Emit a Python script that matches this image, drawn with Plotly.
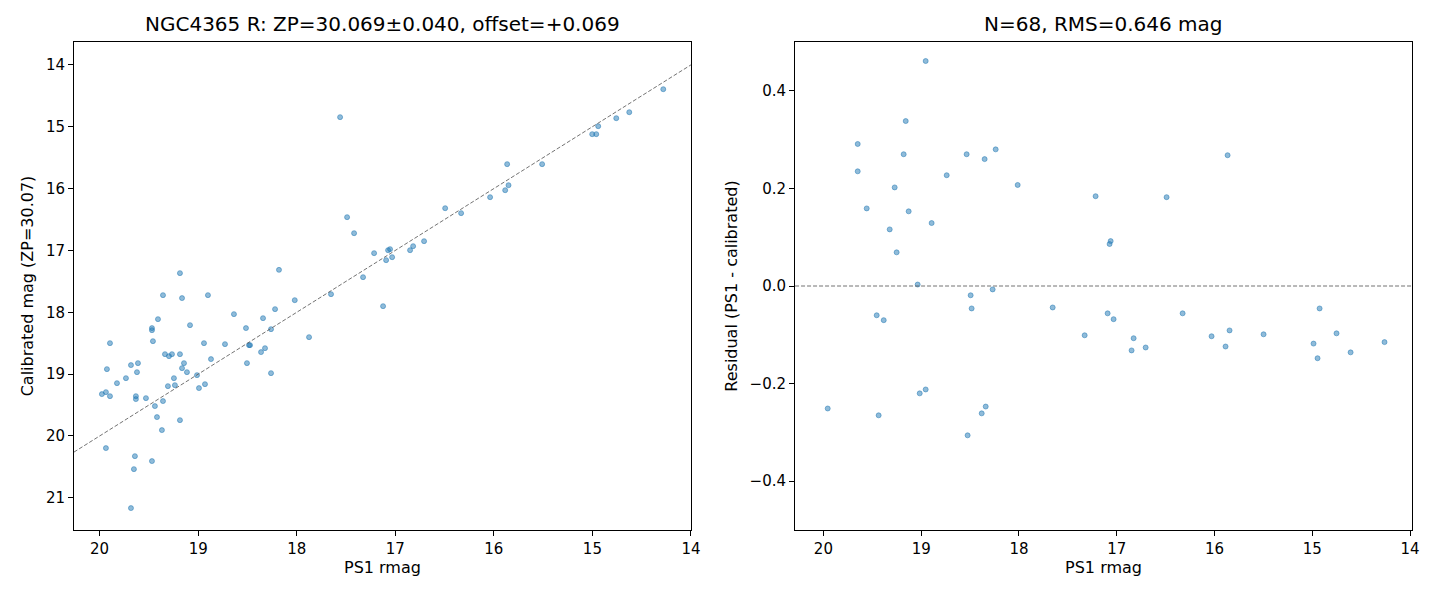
import plotly.graph_objects as go

# Left panel: PS1 rmag vs calibrated mag
ps1_all = [19.185, 19.357, 19.164, 18.901, 18.180, 18.020, 19.408, 18.637, 18.220, 18.342,
           19.469, 19.469, 19.083, 18.515, 18.261, 19.895, 19.459, 18.941, 18.728, 18.484,
           18.474, 18.322, 18.362, 19.337, 19.296, 19.266, 19.185, 18.870, 19.144, 19.164,
           19.611, 19.682, 19.621, 19.926, 18.505, 19.114, 19.733, 19.246, 19.012, 18.261,
           19.824, 19.307, 19.236, 18.992, 18.931, 19.977, 19.936, 19.895, 19.632, 19.632,
           19.530, 19.357, 19.439, 19.418, 19.185, 19.368, 19.936, 19.642, 19.469, 19.652,
           19.682, 17.560, 17.489, 17.418, 16.494, 16.332, 17.215, 17.073, 17.053, 17.093,
           17.032, 16.850, 16.819, 16.708, 17.327, 17.652, 17.124, 17.875, 14.281, 14.626,
           14.758, 14.941, 15.002, 14.961, 15.865, 15.510, 15.851, 15.885, 16.038]
cal_all = [17.367, 17.723, 17.771, 17.723, 17.314, 17.804, 18.111, 18.030, 17.949, 18.095,
           18.256, 18.289, 18.208, 18.256, 18.273, 18.499, 18.467, 18.499, 18.515, 18.531,
           18.531, 18.580, 18.644, 18.677, 18.709, 18.677, 18.677, 18.757, 18.822, 18.903,
           18.822, 18.854, 18.968, 18.919, 18.822, 18.968, 19.065, 19.065, 19.016, 18.984,
           19.146, 19.194, 19.178, 19.226, 19.162, 19.323, 19.291, 19.356, 19.356, 19.404,
           19.388, 19.436, 19.517, 19.695, 19.744, 19.905, 20.196, 20.326, 20.406, 20.536,
           21.166, 14.845, 16.462, 16.721, 16.317, 16.397, 17.044, 16.996, 16.979, 17.157,
           17.109, 16.996, 16.931, 16.850, 17.432, 17.707, 17.901, 18.402, 14.393, 14.765,
           14.862, 14.991, 15.120, 15.120, 15.605, 15.605, 15.945, 16.026, 16.139]

# Right panel: residuals
ps1_res = [18.954, 19.158, 19.649, 19.179, 18.535, 18.351, 18.238, 19.649, 18.739, 18.013,
           19.271, 19.557, 19.128, 18.893, 19.322, 19.251, 19.036, 18.494, 18.269, 18.484,
           19.455, 19.383, 19.015, 18.954, 19.956, 19.435, 18.340, 18.381, 18.525,
           15.866, 17.216, 16.490, 17.062, 17.073, 17.655, 17.093, 17.032, 17.328, 16.827,
           16.848, 16.704, 16.326, 16.030, 15.846, 15.887, 15.498, 14.925, 14.987, 14.946,
           14.752, 14.608, 14.261]
resid = [0.461, 0.338, 0.291, 0.270, 0.270, 0.260, 0.280, 0.235, 0.227, 0.207,
         0.202, 0.159, 0.153, 0.129, 0.116, 0.069, 0.003, -0.019, -0.007, -0.046,
         -0.060, -0.070, -0.220, -0.212, -0.251, -0.265, -0.247, -0.261, -0.306,
         0.268, 0.184, 0.182, 0.092, 0.086, -0.044, -0.056, -0.068, -0.101, -0.107,
         -0.132, -0.126, -0.056, -0.103, -0.091, -0.124, -0.099, -0.046, -0.118, -0.148,
         -0.097, -0.136, -0.115]

left_title = "NGC4365 R: ZP=30.069±0.040, offset=+0.069"
right_title = "N=68, RMS=0.646 mag"

X1_RANGE = [20.26, 14.0]
Y1_RANGE = [21.52, 13.63]
X2_RANGE = [20.29, 13.98]
Y2_RANGE = [-0.5, 0.5]

pt_color = "rgba(31,119,180,0.5)"
FONT = "DejaVu Sans"
TICK_SIZE = 15
LABEL_SIZE = 16
TITLE_SIZE = 20

fig = go.Figure()
fig.add_trace(go.Scatter(
    x=ps1_all, y=cal_all, mode="markers", xaxis="x", yaxis="y",
    marker=dict(size=5, color=pt_color, line=dict(width=1, color=pt_color)),
    showlegend=False, hoverinfo="skip"))
fig.add_trace(go.Scatter(
    x=[X1_RANGE[0], X1_RANGE[1]], y=[X1_RANGE[0], X1_RANGE[1]], mode="lines",
    xaxis="x", yaxis="y",
    line=dict(color="rgba(90,90,90,0.85)", width=1, dash="4px,2px"),
    showlegend=False, hoverinfo="skip"))
fig.add_trace(go.Scatter(
    x=ps1_res, y=resid, mode="markers", xaxis="x2", yaxis="y2",
    marker=dict(size=5, color=pt_color, line=dict(width=1, color=pt_color)),
    showlegend=False, hoverinfo="skip"))

fig.add_shape(type="line", xref="x2 domain", yref="y2", x0=0, x1=1, y0=0, y1=0,
              line=dict(color="rgba(90,90,90,0.85)", width=1, dash="4px,2px"))

axis_common = dict(showline=True, linecolor="black", linewidth=1, mirror=True,
                   ticks="outside", ticklen=5, tickwidth=1, tickcolor="black",
                   showgrid=False, zeroline=False,
                   tickfont=dict(family=FONT, size=TICK_SIZE, color="black"))

fig.update_layout(
    width=1440, height=600,
    margin=dict(l=66, r=36, t=34, b=78),
    paper_bgcolor="white", plot_bgcolor="white",
    font=dict(family=FONT, color="black"),
    xaxis=dict(domain=[0, 0.4611], range=X1_RANGE, anchor="y",
               tickvals=[20, 19, 18, 17, 16, 15, 14],
               title=dict(text="PS1 rmag", font=dict(family=FONT, size=LABEL_SIZE), standoff=4),
               **axis_common),
    yaxis=dict(domain=[0, 1], range=Y1_RANGE, anchor="x",
               tickvals=[14, 15, 16, 17, 18, 19, 20, 21],
               title=dict(text="Calibrated mag (ZP=30.07)", font=dict(family=FONT, size=LABEL_SIZE), standoff=8),
               **axis_common),
    xaxis2=dict(domain=[0.5389, 1.0], range=X2_RANGE, anchor="y2",
                tickvals=[20, 19, 18, 17, 16, 15, 14],
                title=dict(text="PS1 rmag", font=dict(family=FONT, size=LABEL_SIZE), standoff=4),
                **axis_common),
    yaxis2=dict(domain=[0, 1], range=Y2_RANGE, anchor="x2",
                tickvals=[-0.4, -0.2, 0.0, 0.2, 0.4], tickformat=".1f",
                title=dict(text="Residual (PS1 - calibrated)", font=dict(family=FONT, size=LABEL_SIZE), standoff=8),
                **axis_common),
    annotations=[
        dict(text=left_title, xref="x domain", yref="paper", x=0.5, y=1.0, yshift=4,
             xanchor="center", yanchor="bottom", showarrow=False,
             font=dict(family=FONT, size=TITLE_SIZE, color="black")),
        dict(text=right_title, xref="x2 domain", yref="paper", x=0.5, y=1.0, yshift=4,
             xanchor="center", yanchor="bottom", showarrow=False,
             font=dict(family=FONT, size=TITLE_SIZE, color="black")),
    ],
)

fig.write_html("out.html")
